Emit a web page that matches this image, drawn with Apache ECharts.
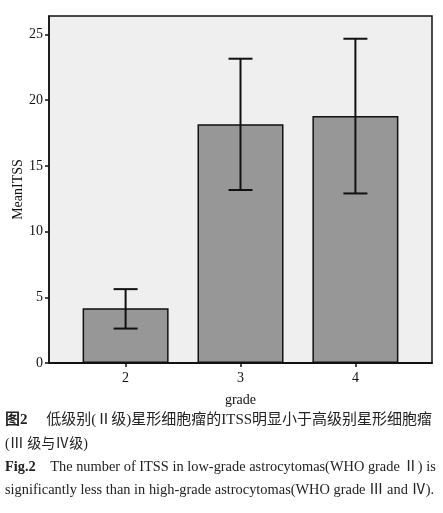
<!DOCTYPE html>
<html>
<head>
<meta charset="utf-8">
<script src="https://cdn.jsdelivr.net/npm/echarts@6/dist/echarts.min.js"></script>
<style>
    html, body { margin: 0; padding: 0; background: #fff; }
    #container { width: 443px; height: 513px; }
</style>
</head>
<body>
<div id="container"></div>
<script type="text/javascript">
    // grade categories and mean ITSS with error bar ends
    var grades = [2, 3, 4];
    var meanITSS = [4.17, 18.16, 18.8];
    var errLow = [2.62, 13.16, 12.9];
    var errHigh = [5.62, 23.15, 24.67];
    var yTicks = [0, 5, 10, 15, 20, 25];

    var serif = '"Liberation Serif", "Noto Sans CJK SC", serif';

    var barData = [];
    var errData = [];
    for (var i = 0; i < grades.length; i++) {
        barData.push([grades[i], meanITSS[i]]);
        errData.push([grades[i], errLow[i], errHigh[i]]);
    }

    var dom = document.getElementById('container');
    var myChart = echarts.init(dom);
    var option = {
        backgroundColor: '#fff',
        animation: false,
        grid: {
            left: 49,
            right: 11,
            top: 16,
            bottom: 150,
            containLabel: false,
            outerBoundsMode: 'none',
            show: true,
            backgroundColor: '#efefef',
            borderColor: '#111',
            borderWidth: 1.5
        },
        xAxis: {
            type: 'value',
            min: 4 / 3,
            max: 14 / 3,
            name: 'grade',
            nameLocation: 'middle',
            nameGap: 30,
            nameMoveOverlap: false,
            nameTextStyle: { fontFamily: serif, fontSize: 14, color: '#111' },
            splitLine: { show: false },
            axisLine: { show: true, lineStyle: { color: '#111', width: 2 } },
            axisTick: { show: true, length: 4, customValues: grades, lineStyle: { color: '#111', width: 1.5 } },
            axisLabel: { customValues: grades, fontFamily: serif, fontSize: 14, color: '#111', margin: 8 }
        },
        yAxis: {
            type: 'value',
            min: 0,
            max: 26.4,
            name: 'MeanITSS',
            nameLocation: 'middle',
            nameGap: 24,
            nameRotate: 90,
            nameMoveOverlap: false,
            nameTextStyle: { fontFamily: serif, fontSize: 14, color: '#111' },
            splitLine: { show: false },
            axisLine: { show: true, lineStyle: { color: '#111', width: 1.5 } },
            axisTick: { show: true, length: 4, customValues: yTicks, lineStyle: { color: '#111', width: 1.5 } },
            axisLabel: { customValues: yTicks, fontFamily: serif, fontSize: 14, color: '#111', margin: 6 }
        },
        series: [{
            type: 'bar',
            data: barData,
            barWidth: 86,
            itemStyle: { color: '#979797', borderColor: '#111', borderWidth: 1.5 }
        }, {
            type: 'custom',
            data: errData,
            z: 10,
            renderItem: function (params, api) {
                var lo = api.coord([api.value(0), api.value(1)]);
                var hi = api.coord([api.value(0), api.value(2)]);
                var hw = 12;
                var st = { stroke: '#111', lineWidth: 2 };
                return {
                    type: 'group',
                    children: [
                        { type: 'line', shape: { x1: lo[0], y1: lo[1], x2: hi[0], y2: hi[1] }, style: st },
                        { type: 'line', shape: { x1: lo[0] - hw, y1: lo[1], x2: lo[0] + hw, y2: lo[1] }, style: st },
                        { type: 'line', shape: { x1: hi[0] - hw, y1: hi[1], x2: hi[0] + hw, y2: hi[1] }, style: st }
                    ]
                };
            }
        }],
        graphic: [{
            type: 'text',
            left: 5,
            top: 413,
            style: {
                text: '{b|图2}　 低级别(Ⅱ级)星形细胞瘤的ITSS明显小于高级别星形细胞瘤',
                font: '15px ' + serif,
                fill: '#222',
                rich: { b: { fontWeight: 'bold', fontSize: 15, fontFamily: serif } }
            }
        }, {
            type: 'text',
            left: 5,
            top: 437,
            style: { text: '(Ⅲ 级与Ⅳ级)', font: '14px ' + serif, fill: '#222' }
        }, {
            type: 'text',
            left: 5,
            top: 460,
            style: {
                text: '{b|Fig.2}    The number of ITSS in low-grade astrocytomas(WHO grade Ⅱ) is',
                font: '14.4px ' + serif,
                fill: '#222',
                rich: { b: { fontWeight: 'bold', fontSize: 14.4, fontFamily: serif } }
            }
        }, {
            type: 'text',
            left: 5,
            top: 483,
            style: {
                text: 'significantly less than in high-grade astrocytomas(WHO grade Ⅲ and Ⅳ).',
                font: '14.4px ' + serif,
                fill: '#222'
            }
        }]
    };
    myChart.setOption(option);
</script>
</body>
</html>
